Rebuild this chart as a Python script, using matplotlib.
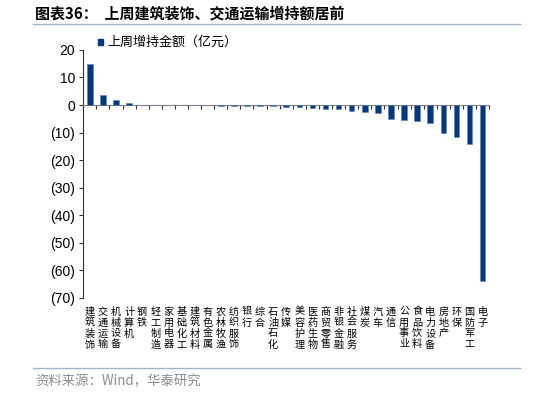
import numpy as np
import matplotlib.pyplot as plt
from matplotlib.lines import Line2D
from matplotlib.patches import Rectangle

plt.rcParams['font.family'] = ['Noto Sans CJK SC', 'DejaVu Sans']

industries = ['建筑装饰', '交通运输', '机械设备', '计算机', '钢铁', '轻工制造', '家用电器',
              '基础化工', '建筑材料', '有色金属', '农林牧渔', '纺织服饰', '银行', '综合',
              '石油石化', '传媒', '美容护理', '医药生物', '商贸零售', '非银金融', '社会服务',
              '煤炭', '汽车', '通信', '公用事业', '食品饮料', '电力设备', '房地产', '环保',
              '国防军工', '电子']
amount = [14.9, 3.6, 1.7, 0.8, 0.1, 0.05, 0.02, -0.05, -0.1, -0.15, -0.2, -0.25,
          -0.3, -0.4, -0.5, -0.6, -0.85, -1.1, -1.5, -1.6, -2.1, -2.6, -2.8,
          -5.1, -5.4, -5.7, -6.4, -10.3, -11.5, -14.3, -63.7]
yticks = [20, 10, 0, -10, -20, -30, -40, -50, -60, -70]

navy = '#00377D'
linec = '#9DB3CE'

fig = plt.figure(figsize=(5.34, 3.93), dpi=100)
ax = fig.add_axes([0.156, 0.242, 0.76, 0.631])

x = np.arange(len(industries))
ax.bar(x, amount, width=0.42, color=navy, edgecolor='#5F84B5', linewidth=0.4, zorder=3)

ax.set_xlim(-0.5, len(industries) - 0.5)
ax.set_ylim(-70, 20)
ax.set_yticks(yticks)
ax.set_yticklabels([str(v) if v >= 0 else '(%d)' % (-v) for v in yticks],
                   family=['Liberation Sans'], fontsize=10)
ax.tick_params(axis='y', direction='out', length=3, width=0.8, colors='#333333', pad=3)
ax.tick_params(axis='y', labelcolor='black')

ax.spines['top'].set_visible(False)
ax.spines['right'].set_visible(False)
ax.spines['bottom'].set_position(('data', 0))
ax.spines['bottom'].set_color('#808080')
ax.spines['left'].set_color('#333333')
ax.set_xticks(np.arange(len(industries) + 1) - 0.5)
ax.set_xticklabels([])
ax.tick_params(axis='x', direction='out', length=3, width=0.8, colors='#333333')

# vertical category labels below the plot
for i, name in enumerate(industries):
    ax.text(i, -0.035, '\n'.join(name), transform=ax.get_xaxis_transform(),
            ha='center', va='top', fontsize=7.3, linespacing=1.12)

# legend
fig.patches.append(Rectangle((98 / 534, 1 - 45 / 393), 5 / 534, 6 / 393,
                             transform=fig.transFigure, color=navy))
fig.text(107 / 534, 1 - 42 / 393, '上周增持金额（亿元）', fontsize=9.4, va='center')

# title and source
fig.text(35 / 534, 1 - 14 / 393, '图表36：  上周建筑装饰、交通运输增持额居前',
         fontsize=10.8, fontweight='bold', va='center')
fig.lines.append(Line2D([33 / 534, 520 / 534], [1 - 24 / 393, 1 - 24 / 393],
                        transform=fig.transFigure, color=linec, linewidth=1))
fig.lines.append(Line2D([33 / 534, 520 / 534], [1 - 368 / 393, 1 - 368 / 393],
                        transform=fig.transFigure, color=linec, linewidth=1))
fig.text(35 / 534, 1 - 381 / 393, '资料来源：Wind，华泰研究', fontsize=9.6,
         color='#8C8C8C', va='center')

fig.savefig('out.png', dpi=100)
